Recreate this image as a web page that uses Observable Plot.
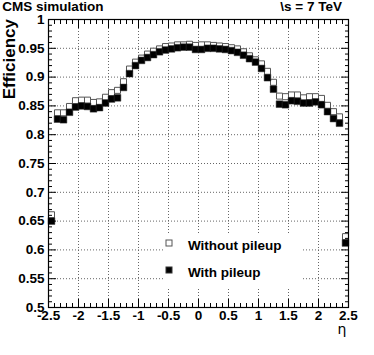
<!DOCTYPE html>
<html><head><meta charset="utf-8">
<script src="https://cdn.jsdelivr.net/npm/d3@7"></script>
<script src="https://cdn.jsdelivr.net/npm/@observablehq/plot@0.6"></script>
<style>
body{margin:0;background:#fff;font-family:"Liberation Sans",Arial,sans-serif;}
#wrap{position:relative;width:374px;height:355px;overflow:hidden;}
#wrap svg text{font-weight:bold;font-family:"Liberation Sans",Arial,sans-serif;}
#legend{position:absolute;left:163px;top:233px;width:138px;height:55px;background:#fff;}
</style></head><body><div id="wrap"></div>
<script>
const eta = [-2.45,-2.35,-2.25,-2.15,-2.05,-1.95,-1.85,-1.75,-1.65,-1.55,-1.45,-1.35,-1.25,-1.15,-1.05,-0.95,-0.85,-0.75,-0.65,-0.55,-0.45,-0.35,-0.25,-0.15,-0.05,
  0.05,0.15,0.25,0.35,0.45,0.55,0.65,0.75,0.85,0.95,1.05,1.15,1.25,1.35,1.45,1.55,1.65,1.75,1.85,1.95,2.05,2.15,2.25,2.35,2.45];
const effWithoutPileup = [0.661,0.838,0.838,0.849,0.859,0.860,0.860,0.856,0.857,0.865,0.873,0.877,0.892,0.914,0.926,0.933,0.940,0.945,0.949,0.953,0.954,0.956,0.956,0.957,0.955,
  0.956,0.956,0.955,0.954,0.953,0.951,0.949,0.944,0.937,0.930,0.923,0.910,0.891,0.867,0.866,0.869,0.869,0.864,0.866,0.866,0.863,0.851,0.840,0.831,0.623];
const effWithPileup = [0.650,0.827,0.826,0.839,0.848,0.850,0.849,0.845,0.847,0.855,0.862,0.864,0.882,0.906,0.920,0.929,0.934,0.939,0.944,0.947,0.949,0.951,0.952,0.952,0.948,
  0.948,0.950,0.950,0.949,0.948,0.946,0.943,0.938,0.932,0.926,0.915,0.899,0.879,0.853,0.852,0.859,0.858,0.855,0.855,0.857,0.852,0.840,0.828,0.820,0.612];
const xTicks = [-2.5,-2,-1.5,-1,-0.5,0,0.5,1,1.5,2,2.5];
const xTickLabels = ["-2.5","-2","-1.5","-1","-0.5","0","0.5","1","1.5","2","2.5"];
const yTicks = [0.5,0.55,0.6,0.65,0.7,0.75,0.8,0.85,0.9,0.95,1];
const yTickLabels = ["0.5","0.55","0.6","0.65","0.7","0.75","0.8","0.85","0.9","0.95","1"];
const xMinor = d3.range(-25, 26).map(i => i / 10).filter(v => !xTicks.includes(v));
const yMinor = d3.range(50, 101).map(i => i / 100).filter(v => !yTicks.some(t => Math.abs(t - v) < 1e-9));

const rowsA = eta.map((e, i) => ({eta: e, eff: effWithoutPileup[i]}));
const rowsB = eta.map((e, i) => ({eta: e, eff: effWithPileup[i]}));

const fmtX = d => xTickLabels[xTicks.indexOf(d)];
const fmtY = d => yTickLabels[yTicks.indexOf(d)];
const tickOnly = {fill: "none", label: null};

const chart = Plot.plot({
  width: 374, height: 355,
  marginLeft: 48, marginRight: 26, marginTop: 19, marginBottom: 48,
  style: {fontFamily: "'Liberation Sans', Arial, sans-serif", fontSize: "13.5px", fontWeight: "bold", color: "#000", background: "#fff"},
  x: {domain: [-2.5, 2.5]},
  y: {domain: [0.5, 1]},
  marks: [
    Plot.ruleX(xTicks.slice(1, -1), {stroke: "#666", strokeDasharray: "1,2", strokeWidth: 1}),
    Plot.ruleY(yTicks.slice(1, -1), {stroke: "#666", strokeDasharray: "1,2", strokeWidth: 1}),
    Plot.dot(rowsA, {x: "eta", y: "eff", symbol: "square", r: 3.4, fill: "#fff", stroke: "#555", strokeWidth: 1}),
    Plot.dot(rowsB, {x: "eta", y: "eff", symbol: "square", r: 3.8, fill: "#000", stroke: "#333", strokeWidth: 0.5}),
    Plot.axisX(xTicks, {anchor: "bottom", tickSize: -8, tickPadding: 11, tickFormat: fmtX, label: null}),
    Plot.axisX(xMinor, {anchor: "bottom", tickSize: -4, ...tickOnly}),
    Plot.axisX(xTicks, {anchor: "top", tickSize: -8, ...tickOnly}),
    Plot.axisX(xMinor, {anchor: "top", tickSize: -4, ...tickOnly}),
    Plot.axisY(yTicks, {anchor: "left", tickSize: -8, tickPadding: 12, tickFormat: fmtY, label: null}),
    Plot.axisY(yMinor, {anchor: "left", tickSize: -4, ...tickOnly}),
    Plot.axisY(yTicks, {anchor: "right", tickSize: -8, ...tickOnly}),
    Plot.axisY(yMinor, {anchor: "right", tickSize: -4, ...tickOnly}),
    Plot.frame({stroke: "#000", strokeWidth: 1.2})
  ]
});

const wrap = document.getElementById("wrap");
wrap.appendChild(chart);
const svg = d3.select(chart);

svg.append("text").attr("x", 53).attr("y", 11).attr("font-size", 13.5).text("CMS simulation");
svg.append("text").attr("x", 342).attr("y", 11).attr("text-anchor", "end").attr("font-size", 13.5).text("\\s = 7 TeV");
svg.append("text").attr("transform", "translate(15,19) rotate(-90)").attr("text-anchor", "end")
  .attr("font-size", 17).text("Efficiency");
svg.append("text").attr("x", 342).attr("y", 334).attr("text-anchor", "middle").attr("font-size", 14)
  .style("font-family", "'DejaVu Sans', sans-serif").style("font-weight", "normal").text("η");

// legend
const leg = d3.select(wrap).append("div").attr("id", "legend");
const ls = leg.append("svg").attr("width", 138).attr("height", 55);
const items = [
  {label: "Without pileup", fill: "#fff", stroke: "#555", y: 10},
  {label: "With pileup", fill: "#000", stroke: "#333", y: 37}
];
items.forEach(it => {
  ls.append("rect").attr("x", 3).attr("y", it.y - 3).attr("width", 6).attr("height", 6)
    .attr("fill", it.fill).attr("stroke", it.stroke).attr("stroke-width", 1);
  ls.append("text").attr("x", 25).attr("y", it.y + 7).attr("font-size", 13.5).text(it.label);
});
</script></body></html>
